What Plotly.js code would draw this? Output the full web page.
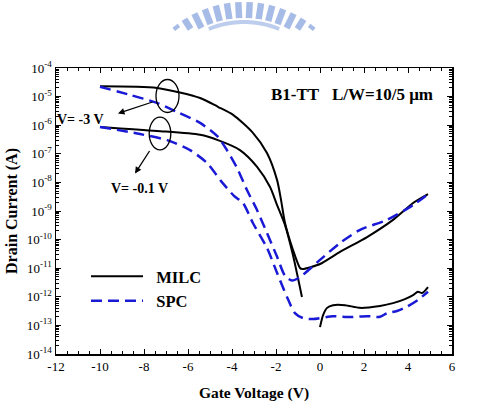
<!DOCTYPE html>
<html>
<head>
<meta charset="utf-8">
<script src="https://cdn.plot.ly/plotly-3.0.1.min.js"></script>
<style>
  html, body { margin: 0; padding: 0; background: #fff; }
  #chart { width: 492px; height: 404px; }
</style>
</head>
<body>
<div id="chart"></div>
<script>
// Transfer characteristics (Id-Vg) of B1-TT TFTs, L/W = 10/5 um

// MILC, Vd = -3 V
const milcHighVg = [-10, -7.4, -5.45, -4.64, -3.95, -3.05, -2.41, -1.95, -1.77, -1.59, -1.23, -0.91, -0.8, -0.4, 0, 0.91, 2.14, 3.32, 4.23, 4.91];
const milcHighId = [2.3e-5, 2.0e-5, 8.9e-6, 4.4e-6, 2.3e-6, 5.4e-7, 1.07e-7, 1.2e-8, 2.4e-9, 3.8e-10, 4.4e-11, 1.02e-11, 9.3e-12, 1.1e-11, 1.4e-11, 3.7e-11, 1.23e-10, 4.9e-10, 1.9e-9, 3.9e-9];

// MILC, Vd = -0.1 V (two measured sweeps, split at the gap)
const milcLowVg = [-10, -7.41, -5.45, -4.64, -3.64, -2.86, -2.27, -1.95, -1.59, -1.23, -0.82, null, 0, 0.14, 0.32, 0.59, 1.14, 1.82, 2.73, 3.32, 3.86, 4.23, 4.45, 4.64, 4.91];
const milcLowId = [8.7e-7, 6.3e-7, 4.6e-7, 3.0e-7, 1.35e-7, 3.5e-8, 6.9e-9, 1.6e-9, 3.2e-10, 2.9e-11, 9.8e-13, null, 8.7e-14, 2.3e-13, 4.1e-13, 5.1e-13, 5.1e-13, 4.1e-13, 4.8e-13, 6.0e-13, 8.3e-13, 1.15e-12, 1.5e-12, 1.35e-12, 2.2e-12];

// SPC, Vd = -3 V
const spcHighVg = [-10, -8.64, -7.41, -6.5, -5.45, -4.68, -4.23, -3.77, -3.32, -2.86, -2.41, -1.95, -1.59, -1.27, -0.91, 0, 0.91, 1.82, 3.05, 4.23, 4.91];
const spcHighId = [2.2e-5, 1.15e-5, 6.0e-6, 2.9e-6, 1.2e-6, 4.2e-7, 1.35e-7, 3.2e-8, 5.4e-9, 1.07e-9, 1.7e-10, 2.5e-11, 5.4e-12, 3.7e-12, 4.9e-12, 1.95e-11, 7.6e-11, 2.2e-10, 4.9e-10, 1.6e-9, 3.9e-9];

// SPC, Vd = -0.1 V
const spcLowVg = [-10, -8.18, -6.95, -5.91, -5.14, -4.45, -3.91, -3.5, -3.05, -2.41, -1.95, -1.5, -1.14, -0.77, -0.32, 0.59, 1.36, 2.14, 2.73, 3.05, 3.5, 3.95, 4.45, 4.91];
const spcLowId = [8.7e-7, 4.9e-7, 3.0e-7, 1.35e-7, 4.8e-8, 1.0e-8, 3.4e-9, 1.9e-9, 3.8e-10, 5.1e-11, 6.8e-12, 9.8e-13, 2.7e-13, 1.8e-13, 1.66e-13, 2.1e-13, 1.95e-13, 2.1e-13, 2.0e-13, 2.7e-13, 3.2e-13, 4.5e-13, 7.8e-13, 1.5e-12];

// Axis ticks
const xTickVals = [-12, -10, -8, -6, -4, -2, 0, 2, 4, 6];
const xTickText = ['-12', '-10', '-8', '-6', '-4', '-2', '0', '2', '4', '6'];
const yExponents = [-14, -13, -12, -11, -10, -9, -8, -7, -6, -5, -4];

const serif = 'Liberation Serif, Times New Roman, serif';
const black = '#000000';
const blue = '#1a1ad6';

const solid = { color: black, width: 2, shape: 'spline', smoothing: 0.7 };
const dashed = { color: blue, width: 2.5, dash: '11px,6px', shape: 'spline', smoothing: 0.7 };

const traces = [
  { x: milcHighVg, y: milcHighId, name: '\u00a0\u00a0MILC', legendgroup: 'milc', mode: 'lines', line: solid },
  { x: milcLowVg, y: milcLowId, name: '\u00a0\u00a0MILC', legendgroup: 'milc', showlegend: false, mode: 'lines',
    connectgaps: false, line: solid },
  { x: spcHighVg, y: spcHighId, name: '\u00a0\u00a0SPC', legendgroup: 'spc', mode: 'lines', line: dashed },
  { x: spcLowVg, y: spcLowId, name: '\u00a0\u00a0SPC', legendgroup: 'spc', showlegend: false, mode: 'lines', line: dashed }
];

// plot-area pixel frame, used to place the decorations in paper units
const frame = { left: 56, right: 452, top: 68, bottom: 354 };
const px = v => (v - frame.left) / (frame.right - frame.left);
const py = v => (frame.bottom - v) / (frame.bottom - frame.top);

const shapes = [];

// ellipses grouping the pairs of curves at each drain bias
function ellipse(cx, cy, rx, ry) {
  shapes.push({ type: 'circle', xref: 'paper', yref: 'paper',
    x0: px(cx - rx), x1: px(cx + rx), y0: py(cy + ry), y1: py(cy - ry),
    line: { color: black, width: 1.3 } });
}
ellipse(167.5, 96, 11.5, 16.5);
ellipse(160, 133.5, 10.8, 16.3);

// faint crest emblem at the top edge of the page
(function crest() {
  const cx = 244, cy = 114, rOut = 112, rIn = 96, clipY = 29;
  const col = 'rgba(150,176,226,0.85)';
  const n = 14, span = 38;
  for (let i = 0; i < n; i++) {
    const a = (-span + i * (2 * span / (n - 1))) * Math.PI / 180;
    const inner = Math.max(rIn, (cy - clipY) / Math.cos(a));
    if (inner >= rOut) continue;
    shapes.push({ type: 'line', xref: 'paper', yref: 'paper',
      x0: px(cx + inner * Math.sin(a)), y0: py(cy - inner * Math.cos(a)),
      x1: px(cx + rOut * Math.sin(a)), y1: py(cy - rOut * Math.cos(a)),
      line: { color: col, width: 6.5 } });
  }
  const rb = 92;
  const lim = Math.acos((cy - clipY) / rb);
  let path = '';
  for (let k = 0; k <= 24; k++) {
    const a = -lim + k * (2 * lim / 24);
    const X = px(cx + rb * Math.sin(a)), Y = py(cy - rb * Math.cos(a));
    path += (k === 0 ? 'M' : 'L') + X.toFixed(5) + ',' + Y.toFixed(5);
  }
  shapes.push({ type: 'path', xref: 'paper', yref: 'paper', path: path,
    line: { color: 'rgba(160,184,230,0.7)', width: 4 } });
})();

const annotations = [
  { xref: 'paper', yref: 'paper', x: px(352), y: py(95), showarrow: false,
    text: '<b>B1-TT\u00a0\u00a0\u00a0L/W=10/5 \u03bcm</b>',
    font: { family: serif, size: 17, color: black }, xanchor: 'center', yanchor: 'middle' },
  { xref: 'paper', yref: 'paper', x: px(80), y: py(120), showarrow: false,
    text: '<b>V= -3 V</b>', font: { family: serif, size: 14, color: black },
    xanchor: 'center', yanchor: 'middle' },
  { xref: 'paper', yref: 'paper', x: px(139), y: py(188), showarrow: false,
    text: '<b>V= -0.1 V</b>', font: { family: serif, size: 14, color: black },
    xanchor: 'center', yanchor: 'middle' },
  // arrows from the ellipses to the bias labels
  { xref: 'paper', yref: 'paper', axref: 'paper', ayref: 'paper',
    x: px(118), y: py(113.5), ax: px(154), ay: py(101.5), text: '',
    showarrow: true, arrowhead: 2, arrowsize: 1, arrowwidth: 1.3, arrowcolor: black },
  { xref: 'paper', yref: 'paper', axref: 'paper', ayref: 'paper',
    x: px(135), y: py(173.5), ax: px(150.5), ay: py(149.5), text: '',
    showarrow: true, arrowhead: 2, arrowsize: 1, arrowwidth: 1.3, arrowcolor: black }
];

const layout = {
  width: 492, height: 404,
  margin: { l: 56, r: 40, t: 68, b: 50, pad: 0 },
  paper_bgcolor: '#ffffff', plot_bgcolor: '#ffffff',
  font: { family: serif, color: black },
  showlegend: true,
  legend: {
    x: px(86), y: py(259), xanchor: 'left', yanchor: 'top',
    bgcolor: 'rgba(0,0,0,0)', borderwidth: 0,
    font: { family: serif, size: 16.5, color: black, weight: 'bold' },
    itemwidth: 52, tracegroupgap: 0
  },
  xaxis: {
    range: [-12, 6], showgrid: false, zeroline: false,
    showline: true, linecolor: black, linewidth: 1.5, mirror: 'ticks',
    ticks: 'inside', ticklen: 5, tickwidth: 1, tickcolor: black,
    tickvals: xTickVals, ticktext: xTickText,
    tickfont: { family: serif, size: 13, color: black },
    minor: { dtick: 0.5, ticks: 'inside', ticklen: 3, tickwidth: 1, tickcolor: black, showgrid: false },
    title: { text: '<b>Gate Voltage (V)</b>', font: { family: serif, size: 15.5, color: black }, standoff: 14 }
  },
  yaxis: {
    type: 'log', range: [-14, -4], showgrid: false, zeroline: false,
    showline: true, linecolor: black, linewidth: 1.5, mirror: 'ticks',
    ticks: 'inside', ticklen: 5, tickwidth: 1, tickcolor: black,
    tickvals: yExponents.map(e => Math.pow(10, e)),
    ticktext: yExponents.map(e => '10<sup>' + e + '</sup>'),
    tickfont: { family: serif, size: 13, color: black },
    minor: { dtick: 'D1', ticks: 'inside', ticklen: 3, tickwidth: 1, tickcolor: black, showgrid: false },
    title: { text: '<b>Drain Current (A)</b>', font: { family: serif, size: 16, color: black }, standoff: 5 }
  },
  shapes: shapes,
  annotations: annotations
};

Plotly.newPlot('chart', traces, layout, { displayModeBar: false, staticPlot: true });
</script>
</body>
</html>
